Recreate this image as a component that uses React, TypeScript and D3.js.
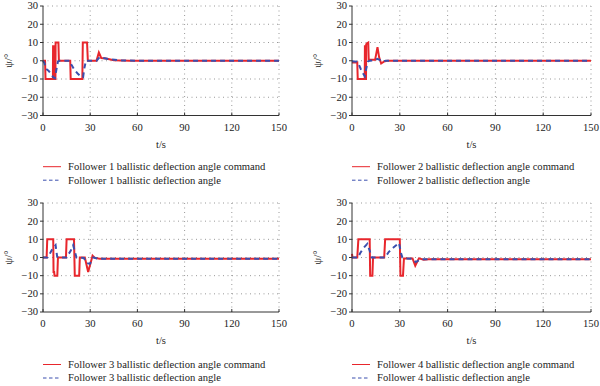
import React from "react";
import * as d3 from "d3";

// [t (s), psi (deg)]
const follower1Command: [number, number][] = [
  [0, 0], [1.3, 0], [1.6, -10], [6.3, -10], [6.4, 8], [6.8, 8], [6.9, -10], [7.2, -10],
  [7.3, 8], [7.6, 8], [7.7, -10], [7.9, -10], [8.0, 10], [9.8, 10], [10.1, 0], [17.3, 0],
  [17.6, -10], [25.0, -10], [25.3, 10], [28.0, 10], [28.5, 0], [34, 0], [35.5, 4.5],
  [37, 1.5], [40, 1.2], [45, 0.3], [55, 0], [150, 0],
];
const follower1Angle: [number, number][] = [
  [0, 0], [0.8, -1], [2, -4.5], [3.5, -5.5], [5, -7], [6.5, -9], [7.5, -9.5], [8.5, -5],
  [9.5, -0.5], [10.5, 0], [17, 0], [18, -2], [20, -5], [22, -7], [24, -8.5], [25.5, -9],
  [26.3, -4], [27.3, 0], [34, 0], [36, 2], [38, 1.5], [42, 0.8], [50, 0.2], [60, 0], [150, 0],
];

const follower2Command: [number, number][] = [
  [0, -1], [3.3, -0.8], [3.6, -10], [8.0, -10], [8.1, 8], [8.4, 8], [8.5, -10], [8.8, -10],
  [8.9, 9], [9.3, 9.5], [10.2, 10], [10.5, 0.5], [14.5, 0.5], [16, 7.5], [17, 2], [18.3, -1.5],
  [20, -0.5], [22, 0], [150, 0],
];
const follower2Angle: [number, number][] = [
  [0, -0.3], [3, -0.5], [4, -1.5], [5.5, -4.5], [7, -7], [8, -8.5], [9, -4], [10, -0.5],
  [11, 0], [14, 0.3], [16, 1], [18, 0.2], [19, -0.5], [21, 0], [150, 0],
];

const follower3Command: [number, number][] = [
  [0, 0], [2.3, 0], [2.7, 10], [6.5, 10], [6.7, -8], [7.1, -8], [7.3, -10], [9.1, -10],
  [9.5, 0], [14.6, 0], [15, 10], [19.7, 10], [20.2, -10], [23, -10], [23.4, 0], [26.6, 0],
  [28.7, -8], [31.5, 1], [33, -0.2], [36, -0.7], [150, -0.7],
];
const follower3Angle: [number, number][] = [
  [0, 0], [2.8, 0], [4, 1.5], [5.5, 4], [7, 5.8], [8, 6.8], [9, 0.5], [10, 0], [15, 0],
  [16, 1.5], [17.5, 3.5], [19.2, 6.8], [20.3, 3], [21.3, 0], [26, -0.3], [27.7, -3],
  [29.8, -3.5], [32, 0], [35, -0.7], [150, -0.7],
];

const follower4Command: [number, number][] = [
  [0, 2], [0.3, 0], [3.3, 0], [4, 10], [11.1, 10], [11.4, -10], [12.8, -10], [13.2, 0],
  [20.2, 0], [20.8, 10], [30, 10], [30.4, -10], [32, -10], [32.6, -0.5], [38, -0.5],
  [39.7, -4.5], [42, -0.5], [45, -1.2], [48, -0.9], [150, -1],
];
const follower4Angle: [number, number][] = [
  [0, 0], [4, 0], [5, 2.2], [7, 5], [9.6, 7.5], [11, 4], [12.4, 0], [20.8, 0], [23, 3],
  [26, 5.5], [29.5, 8], [30.6, 3], [31.6, 0], [34, -0.5], [38, -0.8], [40, -2.5],
  [43, -1], [150, -1],
];

const xTicks = [0, 30, 60, 90, 120, 150];
const yTicks = [-30, -20, -10, 0, 10, 20, 30];
const followers = [1, 2, 3, 4];
const commands = [follower1Command, follower2Command, follower3Command, follower4Command];
const angles = [follower1Angle, follower2Angle, follower3Angle, follower4Angle];

const RED = "#e8262c";
const BLUE = "#3a4fae";
const AXIS = "#333";
const FONT = "'Liberation Serif', 'Times New Roman', 'DejaVu Serif', serif";

const Panel = ({ i }: { i: number }) => {
  const left = i % 2 === 0;
  const top = i < 2;
  const x0 = left ? 43 : 352;
  const x1 = left ? 279 : 591;
  const yTop = top ? 6 : 203;
  const yBot = top ? 115.5 : 312;

  const x = d3.scaleLinear().domain([0, 150]).range([x0, x1]);
  const y = d3.scaleLinear().domain([-30, 30]).range([yBot, yTop]);
  const line = d3
    .line<[number, number]>()
    .x((d) => x(d[0]))
    .y((d) => y(d[1]));
  const fmt = d3.format("d");
  const midX = (x0 + x1) / 2;
  const midY = (yTop + yBot) / 2;
  const legendY = top ? 166.7 : 364.5;

  return (
    <g style={{ fontFamily: FONT, fontSize: "10.6px" }} fill="#222">
      {xTicks
        .filter((t) => t > 0)
        .map((t) => (
          <line key={"gx" + t} x1={x(t)} x2={x(t)} y1={yTop} y2={yBot}
            stroke="#999" strokeWidth={1} strokeDasharray="1,3.5" />
        ))}
      {yTicks
        .filter((t) => t > -30)
        .map((t) => (
          <line key={"gy" + t} x1={x0} x2={x1} y1={y(t)} y2={y(t)}
            stroke="#999" strokeWidth={1} strokeDasharray="1,3.5" />
        ))}

      <path d={line(commands[i]) ?? ""} fill="none" stroke={RED} strokeWidth={2} />
      <path d={line(angles[i]) ?? ""} fill="none" stroke={BLUE} strokeWidth={2}
        strokeDasharray="5,4" />

      <line x1={x0} x2={x0} y1={yTop} y2={yBot} stroke={AXIS} strokeWidth={1} />
      <line x1={x0} x2={x1} y1={yBot} y2={yBot} stroke={AXIS} strokeWidth={1} />
      {yTicks.map((t) => (
        <g key={"yt" + t}>
          <line x1={x0 - 3} x2={x0} y1={y(t)} y2={y(t)} stroke={AXIS} />
          <text x={x0 - 5} y={y(t)} dy="0.33em" textAnchor="end">
            {t < 0 ? "\u2212" + fmt(-t) : fmt(t)}
          </text>
        </g>
      ))}
      {xTicks.map((t) => (
        <g key={"xt" + t}>
          <line x1={x(t)} x2={x(t)} y1={yBot} y2={yBot - 3} stroke={AXIS} />
          <text x={x(t)} y={yBot + 15} textAnchor="middle">{fmt(t)}</text>
        </g>
      ))}
      <text x={midX} y={yBot + 32} textAnchor="middle">t/s</text>
      <text transform={`translate(${x0 - 31},${midY}) rotate(-90)`} textAnchor="middle">
        ψ/°
      </text>

      <line x1={x0} x2={x0 + 18} y1={legendY} y2={legendY} stroke={RED} strokeWidth={1} />
      <text x={x0 + 25} y={legendY} dy="0.33em">
        Follower {followers[i]} ballistic deflection angle command
      </text>
      <line x1={x0} x2={x0 + 18} y1={legendY + 13.5} y2={legendY + 13.5} stroke={BLUE}
        strokeWidth={1} strokeDasharray="3.5,2.5" />
      <text x={x0 + 25} y={legendY + 13.5} dy="0.33em">
        Follower {followers[i]} ballistic deflection angle
      </text>
    </g>
  );
};

export default function App() {
  return (
    <div style={{ position: "absolute", left: 0, top: 0 }}>
      <svg width={600} height={386} style={{ display: "block", background: "#fff" }}>
        {followers.map((f, i) => (
          <Panel key={f} i={i} />
        ))}
      </svg>
    </div>
  );
}
